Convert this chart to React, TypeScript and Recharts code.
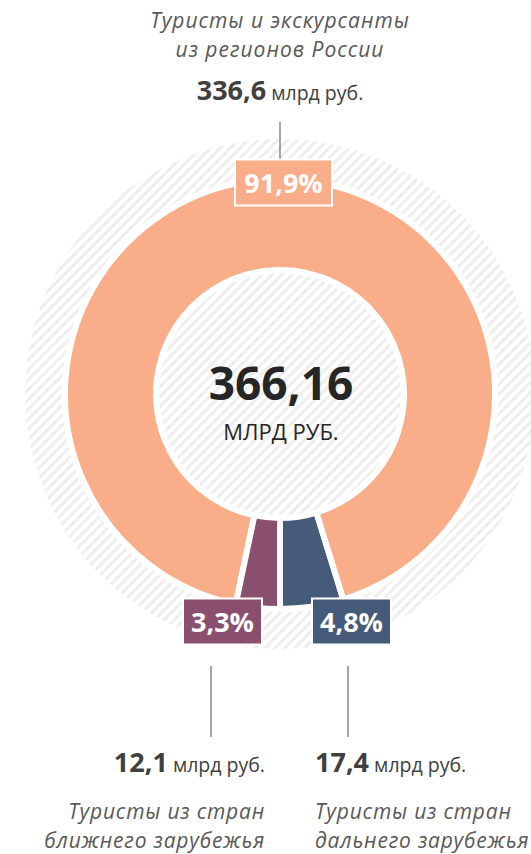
import React from "react";
import { PieChart, Pie, Cell } from "recharts";

// данные
const segmentNames = [
  "Туристы из стран дальнего зарубежья",
  "Туристы и экскурсанты из регионов России",
  "Туристы из стран ближнего зарубежья",
];
const segmentValues = [17.4, 336.6, 12.1];
const valueLabels = ["17,4", "336,6", "12,1"];
const titleLines = [
  ["Туристы из стран", "дальнего зарубежья"],
  ["Туристы и экскурсанты", "из регионов России"],
  ["Туристы из стран", "ближнего зарубежья"],
];
const segmentColors = ["#465a79", "#f9ad89", "#8a4f6e"];
const totalLabel = "366,16";
const totalUnit = "МЛРД РУБ.";
const unitLabel = "млрд руб.";

const data = segmentNames.map((name, i) => ({ name, value: segmentValues[i] }));

const FONT = "'Open Sans', 'Noto Sans', sans-serif";
const TEXT = "#404040";
const TITLE = "#595959";

// раскладка подписей (смещения от центра круга)
const layout = [
  { bx: 71.5, by: 227.5, bw: 79, lx: 68, ly1: 272, ly2: 343, tx: 35, anchor: "start", vy: 378, t1: 425, t2: 454, ls: 0.8 },
  { bx: 3.5, by: -211.5, bw: 97, lx: 0, ly1: -272, ly2: -234, tx: 0, anchor: "middle", vy: -294, t1: -366, t2: -337, ls: 1 },
  { bx: -57.5, by: 227.5, bw: 79, lx: -69, ly1: 272, ly2: 343, tx: -15, anchor: "end", vy: 378, t1: 425, t2: 454, ls: 0.8 },
];

const renderLabel = (props: any) => {
  const { cx, cy, index, percent } = props;
  const L = layout[index];
  const bx = cx + L.bx;
  const by = cy + L.by;
  const pct = (percent * 100).toFixed(1).replace(".", ",") + "%";
  return (
    <g key={`lbl-${index}`} fontFamily={FONT}>
      <line x1={cx + L.lx} x2={cx + L.lx} y1={cy + L.ly1} y2={cy + L.ly2} stroke="#6b6b6b" strokeWidth={1.2} />
      <rect x={bx - L.bw / 2} y={by - 23} width={L.bw} height={46} fill={segmentColors[index]} stroke="#fff" strokeWidth={2} />
      <text x={bx} y={by + 10} textAnchor="middle" fill="#fff" fontWeight={700} fontSize={27}>
        {pct}
      </text>
      <text x={cx + L.tx} y={cy + L.vy} textAnchor={L.anchor} fill={TEXT}>
        <tspan fontWeight={700} fontSize={27}>{valueLabels[index]}</tspan>
        <tspan fontSize={19.5}>{" " + unitLabel}</tspan>
      </text>
      <text x={cx + L.tx} y={cy + L.t1} textAnchor={L.anchor} fill={TITLE} fontStyle="italic" fontSize={21} letterSpacing={L.ls}>
        {titleLines[index][0]}
      </text>
      <text x={cx + L.tx} y={cy + L.t2} textAnchor={L.anchor} fill={TITLE} fontStyle="italic" fontSize={21} letterSpacing={L.ls}>
        {titleLines[index][1]}
      </text>
      {index === 1 && (
        <>
          <text x={cx + 1} y={cy + 6} textAnchor="middle" fill="#262626" fontWeight={700} fontSize={46}>
            {totalLabel}
          </text>
          <text x={cx + 1} y={cy + 46} textAnchor="middle" fill="#262626" fontSize={22}>
            {totalUnit}
          </text>
        </>
      )}
    </g>
  );
};

export default function App() {
  return (
    <div style={{ width: 531, height: 854 }}>
      <style>{"body{margin:0}"}</style>
      <svg width={0} height={0} style={{ position: "absolute" }}>
        <defs>
          <pattern id="hatch" width={7} height={7} patternUnits="userSpaceOnUse" patternTransform="rotate(45)">
            <rect width={7} height={7} fill="#ffffff" />
            <rect width={3} height={7} fill="#eeeeee" />
          </pattern>
        </defs>
      </svg>
      <PieChart width={531} height={854} margin={{ top: 0, right: 0, bottom: 0, left: 0 }}>
        {/* заштрихованный фон */}
        <Pie
          data={[{ name: "bg", value: 1 }]}
          dataKey="value"
          cx={280}
          cy={394}
          innerRadius={0}
          outerRadius={255}
          fill="url(#hatch)"
          stroke="none"
          isAnimationActive={false}
        />
        <Pie
          data={[{ name: "ring", value: 1 }]}
          dataKey="value"
          cx={280}
          cy={394}
          innerRadius={121}
          outerRadius={218}
          fill="#ffffff"
          stroke="none"
          isAnimationActive={false}
        />
        <Pie
          data={data}
          dataKey="value"
          nameKey="name"
          cx={280}
          cy={394}
          innerRadius={124}
          outerRadius={215}
          startAngle={-90}
          endAngle={270}
          stroke="#ffffff"
          strokeWidth={6}
          label={renderLabel}
          labelLine={false}
          isAnimationActive={false}
        >
          {data.map((d, i) => (
            <Cell key={d.name} fill={segmentColors[i]} />
          ))}
        </Pie>
      </PieChart>
    </div>
  );
}
